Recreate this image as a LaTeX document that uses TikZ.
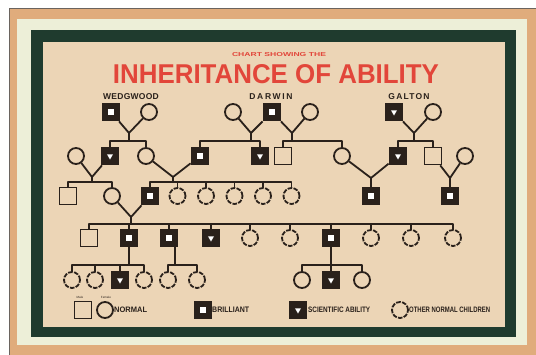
\documentclass[tikz,border=0pt]{standalone}
\usepackage{fontspec}
\setmainfont{Liberation Sans}
\usetikzlibrary{shapes.geometric}
\definecolor{ink}{HTML}{2A211B}
\definecolor{paper}{HTML}{ECD5B6}
\definecolor{tanband}{HTML}{E0AC7C}
\definecolor{mat}{HTML}{EDEFD8}
\definecolor{frame}{HTML}{1F3B2E}
\definecolor{titlered}{HTML}{E2463A}
\newcommand{\mysize}[3]{\resizebox{#1}{#2}{#3}}
\tikzset{
 link/.style={draw=ink, line width=1.8pt, line join=round},
 person/.style={draw=ink, line width=1.8pt, inner sep=0pt, fill=paper},
 sq/.style={person, rectangle, minimum size=17pt},
 fem/.style={person, circle, minimum size=16pt},
 other/.style={fem, dash pattern=on 4.6pt off 1.3pt},
 brill/.style={sq, fill=ink, label={[fill=white, rectangle, inner sep=0pt, minimum size=5.5pt]center:}},
 sci/.style={sq, fill=ink, label={[fill=white, regular polygon, regular polygon sides=3, shape border rotate=180, inner sep=0pt, minimum size=7pt]center:}},
 lbl/.style={text=ink, inner sep=0pt},
 famlbl/.style={text=ink, inner sep=0pt, font=\fontsize{8.5}{9}\selectfont\bfseries},
}
\begin{document}
\begin{tikzpicture}[x=1pt,y=-1pt]
\useasboundingbox (0,0) rectangle (536,354);
% frame
\fill[white] (0,0) rectangle (536,354);
\filldraw[fill=tanband, draw=ink!70, line width=0.8pt] (9,8) rectangle (540,358);
\fill[mat] (17,19) rectangle (527,345);
\fill[frame] (31,30) rectangle (516,337);
\fill[paper] (43,42) rectangle (505,327);
% titles
\node[text=titlered, inner sep=0pt] (sub) at (279,54.5) {\mysize{94pt}{4pt}{\bfseries CHART SHOWING THE}};
\node[text=titlered, inner sep=0pt] (title) at (276,74.5) {\mysize{326pt}{19pt}{\bfseries INHERITANCE OF ABILITY}};
\node[famlbl] (tw) at (131,97) {\addfontfeature{LetterSpace=3}WEDGWOOD};
\node[famlbl] (td) at (271,97) {\addfontfeature{LetterSpace=20}DARWIN};
\node[famlbl] (tg) at (409,97) {\addfontfeature{LetterSpace=14}GALTON};
% generation 1
\node[brill] (wS) at (111,112) {};
\node[fem] (wW) at (149,112) {};
\node[fem] (dW1) at (233,112) {};
\node[brill] (dS) at (272,112) {};
\node[fem] (dW2) at (310,112) {};
\node[sci] (gS) at (394,112) {};
\node[fem] (gW) at (433,112) {};
\coordinate (jW) at (129,133); \coordinate (bW) at (129,141);
\coordinate (jD1) at (251,133); \coordinate (bD1) at (251,141);
\coordinate (jD2) at (292,133); \coordinate (bD2) at (292,141);
\coordinate (jG) at (414,133); \coordinate (bG) at (414,141);
% generation 2
\node[fem] (r2a) at (76,156) {};
\node[sci] (r2b) at (110,156) {};
\node[fem] (r2c) at (146,156) {};
\node[brill] (r2d) at (200,156) {};
\node[sci] (r2e) at (260,156) {};
\node[sq] (r2f) at (283,156) {};
\node[fem] (r2g) at (342,156) {};
\node[sci] (r2h) at (398,156) {};
\node[sq] (r2i) at (433,156) {};
\node[fem] (r2j) at (465,156) {};
\draw[link] (wS) -- (jW) -- (wW); \draw[link] (jW) -- (bW);
\draw[link] (r2b.north) |- (bW); \draw[link] (r2c.north) |- (bW);
\draw[link] (dW1) -- (jD1) -- (dS); \draw[link] (jD1) -- (bD1);
\draw[link] (r2d.north) |- (bD1); \draw[link] (r2e.north) |- (bD1);
\draw[link] (dS) -- (jD2) -- (dW2); \draw[link] (jD2) -- (bD2);
\draw[link] (r2f.north) |- (bD2); \draw[link] (r2g.north) |- (bD2);
\draw[link] (gS) -- (jG) -- (gW); \draw[link] (jG) -- (bG);
\draw[link] (r2h.north) |- (bG); \draw[link] (r2i.north) |- (bG);
% generation 3
\node[sq] (r3a) at (68,196) {};
\node[fem] (r3b) at (112,196) {};
\node[brill] (r3c) at (150,196) {};
\node[other] (r3d) at (177.5,196) {};
\node[other] (r3e) at (206,196) {};
\node[other] (r3f) at (234.5,196) {};
\node[other] (r3g) at (263,196) {};
\node[other] (r3h) at (291.5,196) {};
\node[brill] (r3i) at (371,196) {};
\node[brill] (r3j) at (450,196) {};
\coordinate (jA) at (92,177); \coordinate (bA) at (92,182);
\coordinate (jB) at (173,177); \coordinate (bB) at (173,182);
\coordinate (jC) at (371,178);
\coordinate (jD) at (450,178);
\draw[link] (r2a) -- (jA) -- (r2b); \draw[link] (jA) -- (bA);
\draw[link] (r3a.north) |- (bA); \draw[link] (r3b.north) |- (bA);
\draw[link] (r2c) -- (jB) -- (r2d); \draw[link] (jB) -- (bB);
\foreach \c in {r3c,r3d,r3e,r3f,r3g,r3h} {\draw[link] (\c.north) |- (bB);}
\draw[link] (r2g) -- (jC) -- (r2h); \draw[link] (jC) -- (r3i);
\draw[link] (r2i) -- (jD) -- (r2j); \draw[link] (jD) -- (r3j);
% generation 4
\node[sq] (r4a) at (89,238) {};
\node[brill] (r4b) at (129,238) {};
\node[brill] (r4c) at (169,238) {};
\node[sci] (r4d) at (211,238) {};
\node[other] (r4e) at (250,238) {};
\node[other] (r4f) at (290,238) {};
\node[brill] (r4g) at (331,238) {};
\node[other] (r4h) at (371,238) {};
\node[other] (r4i) at (411,238) {};
\node[other] (r4j) at (453,238) {};
\coordinate (jE) at (131,217); \coordinate (bE) at (131,224);
\draw[link] (r3b) -- (jE) -- (r3c); \draw[link] (jE) -- (bE);
\foreach \c in {r4a,r4b,r4c,r4d,r4e,r4f,r4g,r4h,r4i,r4j} {\draw[link] (\c.north) |- (bE);}
% generation 5
\node[other] (r5a) at (72,280) {};
\node[other] (r5b) at (95,280) {};
\node[sci] (r5c) at (120,280) {};
\node[other] (r5d) at (144,280) {};
\node[other] (r5e) at (168,280) {};
\node[other] (r5f) at (197,280) {};
\node[fem] (r5g) at (302,280) {};
\node[sci] (r5h) at (331,280) {};
\node[fem] (r5i) at (362,280) {};
\coordinate (bF) at (129,265);
\coordinate (bH) at (175,265);
\coordinate (bK) at (331,265);
\draw[link] (r4b) -- (bF);
\foreach \c in {r5a,r5b,r5c,r5d} {\draw[link] (\c.north) |- (bF);}
\draw[link] (r4c.south -| bH) -- (bH);
\foreach \c in {r5e,r5f} {\draw[link] (\c.north) |- (bH);}
\draw[link] (r4g) -- (bK);
\foreach \c in {r5g,r5h,r5i} {\draw[link] (\c.north) |- (bK);}
% legend
\node[sq] (lm) at (83,310) {};
\node[fem] (lf) at (105,310) {};
\node[lbl, font=\fontsize{3}{3}\selectfont] (tm) at (80,297) {Male};
\node[lbl, font=\fontsize{3}{3}\selectfont] (tf) at (106,297) {Female};
\node[lbl, anchor=west] (tn) at (114,310) {\mysize{33pt}{5.5pt}{\bfseries NORMAL}};
\node[brill] (lb) at (203,310) {};
\node[lbl, anchor=west] (tb) at (212,310) {\mysize{37pt}{5.5pt}{\bfseries BRILLIANT}};
\node[sci] (ls) at (298,310) {};
\node[lbl, anchor=west] (ts) at (308,310) {\mysize{62pt}{5.5pt}{\bfseries SCIENTIFIC ABILITY}};
\node[other] (lo) at (400,310) {};
\node[lbl, anchor=west] (to) at (409,310) {\mysize{81pt}{5.5pt}{\bfseries OTHER NORMAL CHILDREN}};
\end{tikzpicture}
\end{document}
